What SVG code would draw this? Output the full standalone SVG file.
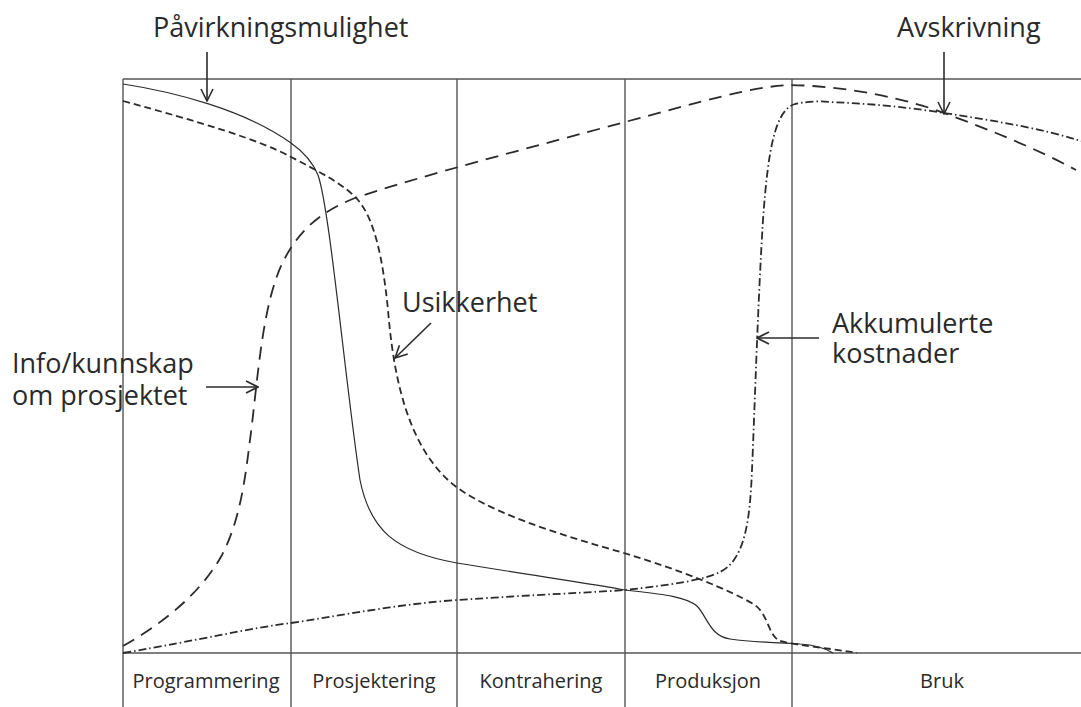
<svg xmlns="http://www.w3.org/2000/svg" width="1081" height="707" viewBox="0 0 1081 707">
  <defs>
    <marker id="vhead" viewBox="0 0 14 14" refX="13" refY="7" markerWidth="14" markerHeight="14" markerUnits="userSpaceOnUse" orient="auto">
      <path d="M1,1 L13,7 L1,13" fill="none" stroke="#2b2b2b" stroke-width="1.6"/>
    </marker>
    <style>
      .grid { stroke: #555; stroke-width: 1.4; fill: none; }
      .curve { fill: none; stroke: #2b2b2b; stroke-width: 1.5; }
      .solid { stroke-width: 1.2; }
      .short { stroke-dasharray: 7 4; stroke-width: 1.8; }
      .long { stroke-dasharray: 13 8; stroke-width: 1.8; }
      .dashdot { stroke-dasharray: 8 3 1.5 3; stroke-width: 1.8; }
      .pointer { stroke: #2b2b2b; stroke-width: 1.6; fill: none; marker-end: url(#vhead); }
      .lbl { font-family: "Open Sans", "Noto Sans", sans-serif; font-size: 27px; fill: #2a2a2a; }
      .phase { font-family: "Open Sans", "Noto Sans", sans-serif; font-size: 20px; fill: #2a2a2a; text-anchor: middle; }
    </style>
  </defs>
  <rect width="1081" height="707" fill="#ffffff"/>

  <!-- phase grid -->
  <g id="grid">
    <line class="grid" x1="123" y1="79" x2="1081" y2="79"/>
    <line class="grid" x1="123" y1="653" x2="1081" y2="653"/>
    <line class="grid" x1="123" y1="79" x2="123" y2="707"/>
    <line class="grid" x1="291" y1="79" x2="291" y2="707"/>
    <line class="grid" x1="457" y1="79" x2="457" y2="707"/>
    <line class="grid" x1="625" y1="79" x2="625" y2="707"/>
    <line class="grid" x1="792" y1="79" x2="792" y2="707"/>
  </g>

  <!-- phase names -->
  <g id="phases">
    <text class="phase" x="206" y="688">Programmering</text>
    <text class="phase" x="374" y="688">Prosjektering</text>
    <text class="phase" x="541" y="688">Kontrahering</text>
    <text class="phase" x="708" y="688">Produksjon</text>
    <text class="phase" x="942" y="688">Bruk</text>
  </g>

  <!-- curves -->
  <g id="curves">
    <path id="pavirkning" class="curve solid" d="M123,84 C175,92 245,110 291,143 C305,153 314,165 318,175 C330,210 345,380 360,480 C370,530 395,552 457,563 C530,575 600,585 625,590 C660,594 685,596 697,606 C708,618 710,636 730,639 C760,643 790,643 800,644 C815,645 825,648 833,653"/>
    <path id="usikkerhet" class="curve short" d="M123,101 C200,122 260,140 291,157 C320,172 345,185 358,200 C375,220 383,260 388,310 C393,370 405,440 448,480 C480,510 560,535 624,553 C680,570 730,590 755,605 C768,615 768,633 778,640 C790,645 830,648 857,653"/>
    <path id="info" class="curve long" d="M123,646 C160,625 200,595 222,555 C240,520 245,480 250,440 C258,380 262,300 285,258 C300,230 320,212 355,198 C420,176 540,145 625,122 C700,102 750,87 789,85 C850,86 910,100 944,113 C990,130 1035,148 1076,170"/>
    <path id="kostnader" class="curve dashdot" d="M123,653 C200,640 250,628 291,623 C350,614 400,604 457,600 C530,595 600,592 625,590 C670,585 705,580 720,572 C745,560 750,520 752,470 C755,400 758,300 763,220 C768,150 775,110 795,104 C810,101 820,101 830,102 C880,104 920,109 944,113 C990,120 1040,128 1081,141"/>
  </g>

  <!-- labels with pointers -->
  <g id="label-pavirkning">
    <text class="lbl" x="153" y="37">Påvirkningsmulighet</text>
    <line class="pointer" x1="207" y1="52" x2="207" y2="101"/>
  </g>
  <g id="label-avskrivning">
    <text class="lbl" x="897" y="37">Avskrivning</text>
    <line class="pointer" x1="944" y1="52" x2="944" y2="114"/>
  </g>
  <g id="label-usikkerhet">
    <text class="lbl" x="402" y="312">Usikkerhet</text>
    <line class="pointer" x1="431" y1="323" x2="395" y2="358"/>
  </g>
  <g id="label-info">
    <text class="lbl" x="12" y="373">Info/kunnskap</text>
    <text class="lbl" x="12" y="405">om prosjektet</text>
    <line class="pointer" x1="206" y1="387" x2="258" y2="387"/>
  </g>
  <g id="label-kostnader">
    <text class="lbl" x="832" y="333">Akkumulerte</text>
    <text class="lbl" x="832" y="363">kostnader</text>
    <line class="pointer" x1="819" y1="338" x2="757" y2="338"/>
  </g>
</svg>
